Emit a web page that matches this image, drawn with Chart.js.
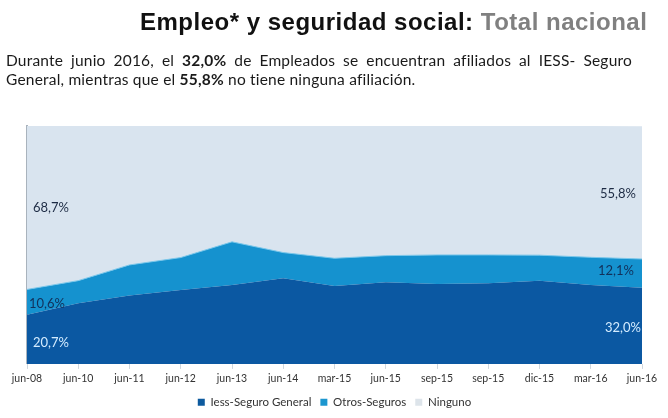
<!DOCTYPE html>
<html>
<head>
<meta charset="utf-8">
<script src="https://cdn.jsdelivr.net/npm/chart.js@4.4.1/dist/chart.umd.min.js"></script>
<style>
  html, body { margin: 0; padding: 0; background: #fff; }
  #wrap { position: relative; width: 668px; height: 418px; overflow: hidden; }
  #title {
    position: absolute; left: 140px; top: 10px; white-space: nowrap;
    font: bold 24px "Liberation Sans", Arial, sans-serif; line-height: 24px;
    letter-spacing: 0.5px; color: #111;
  }
  #title span { color: #808080; }
  .sub {
    position: absolute; left: 6px; width: 626px;
    font: 15.5px Lato, sans-serif; line-height: 18px; color: #1a1a1a; white-space: nowrap;
    letter-spacing: 0.2px;
  }
  #sub1 { top: 51px; text-align: justify; text-align-last: justify; }
  #sub2 { top: 70px; }
  canvas { position: absolute; left: 0; top: 0; }
</style>
</head>
<body>
<div id="wrap">
  <canvas id="chart" width="668" height="418"></canvas>
  <div id="title">Empleo* y seguridad social: <span>Total nacional</span></div>
  <div class="sub" id="sub1">Durante junio 2016, el <b>32,0%</b> de Empleados se encuentran afiliados al IESS- Seguro</div>
  <div class="sub" id="sub2">General, mientras que el <b>55,8%</b> no tiene ninguna afiliación.</div>
</div>
<script>
  var categories = ['jun-08', 'jun-10', 'jun-11', 'jun-12', 'jun-13', 'jun-14', 'mar-15',
    'jun-15', 'sep-15', 'sep-15', 'dic-15', 'mar-16', 'jun-16'];
  var iessGeneral = [20.7, 25.5, 28.7, 31.1, 33.2, 36.0, 32.7, 34.3, 33.6, 33.9, 34.9, 33.2, 32.0];
  var otrosSeguros = [10.6, 9.5, 12.9, 13.6, 18.1, 10.8, 11.7, 11.2, 12.2, 11.9, 10.8, 11.6, 12.1];
  var ninguno = [68.7, 65.0, 58.4, 55.3, 48.7, 53.2, 55.6, 54.5, 54.2, 54.2, 54.3, 55.2, 55.8];

  // end-point annotations: which dataset/point, and the y level (in %) to place them
  var endLabels = [
    { ds: 2, idx: 0, at: 65.5, color: '#1d2b44' },
    { ds: 1, idx: 0, at: 25.2, color: '#12305a' },
    { ds: 0, idx: 0, at: 8.8, color: '#d4ecff' },
    { ds: 2, idx: 12, at: 71.4, color: '#1d2b44' },
    { ds: 1, idx: 12, at: 39.1, color: '#12305a' },
    { ds: 0, idx: 12, at: 15.1, color: '#d4ecff' },
  ];

  function fmt(v) {
    return v.toFixed(1).replace('.', ',') + '%';
  }

  var endLabelPlugin = {
    id: 'endLabels',
    afterDatasetsDraw: function (chart) {
      var ctx = chart.ctx;
      var x = chart.scales.x;
      var y = chart.scales.y;
      ctx.save();
      ctx.font = '13px Lato, sans-serif';
      ctx.textBaseline = 'middle';
      for (var i = 0; i < endLabels.length; i++) {
        var lb = endLabels[i];
        var v = chart.data.datasets[lb.ds].data[lb.idx];
        var px = x.getPixelForValue(lb.idx);
        ctx.fillStyle = lb.color;
        if (lb.idx === 0) {
          ctx.textAlign = 'left';
          px += lb.ds === 1 ? 2 : 6;
        } else {
          ctx.textAlign = 'right';
          px -= lb.ds === 1 ? 8 : lb.ds === 2 ? 6 : 1;
        }
        ctx.fillText(fmt(v), px, y.getPixelForValue(lb.at));
      }
      ctx.restore();
    }
  };

  new Chart(document.getElementById('chart'), {
    type: 'line',
    data: {
      labels: categories,
      datasets: [
        {
          label: 'Iess-Seguro General', data: iessGeneral, fill: 'origin',
          backgroundColor: '#0b58a2', borderColor: '#0b58a2', borderWidth: 0,
          pointRadius: 0, tension: 0,
        },
        {
          label: 'Otros-Seguros', data: otrosSeguros, fill: '-1',
          backgroundColor: '#1592cf', borderColor: '#7cc7ea', borderWidth: 1,
          pointRadius: 0, tension: 0,
        },
        {
          label: 'Ninguno', data: ninguno, fill: '-1',
          backgroundColor: '#d9e4ef', borderColor: '#d9e4ef', borderWidth: 0,
          pointRadius: 0, tension: 0,
        },
      ],
    },
    options: {
      responsive: false,
      animation: false,
      layout: { padding: { left: 27, right: 26, top: 126, bottom: 0 } },
      plugins: {
        legend: {
          position: 'bottom',
          labels: {
            boxWidth: 7, boxHeight: 7, padding: 9, color: '#333',
            font: { family: 'Lato', size: 11.5 },
            generateLabels: function (chart) {
              var items = Chart.defaults.plugins.legend.labels.generateLabels(chart);
              var fills = ['#0d5a9e', '#1c96cf', '#dde4ea'];
              items.forEach(function (it, k) {
                it.fillStyle = fills[k];
                it.strokeStyle = fills[k];
                it.lineWidth = 0;
              });
              return items;
            },
          },
        },
        tooltip: { enabled: false },
      },
      scales: {
        x: {
          offset: false,
          grid: { drawOnChartArea: false, tickLength: 5, color: '#cfd6dd' },
          border: { display: false },
          ticks: {
            color: '#333', padding: 3, maxRotation: 0, autoSkip: false,
            font: { family: 'Lato', size: 10.5 },
          },
        },
        y: {
          stacked: true, min: 0, max: 100,
          grid: { display: false, drawTicks: false },
          border: { display: true, color: '#a9b3bd', width: 2 },
          ticks: { display: false },
        },
      },
    },
    plugins: [endLabelPlugin],
  });
</script>
</body>
</html>
